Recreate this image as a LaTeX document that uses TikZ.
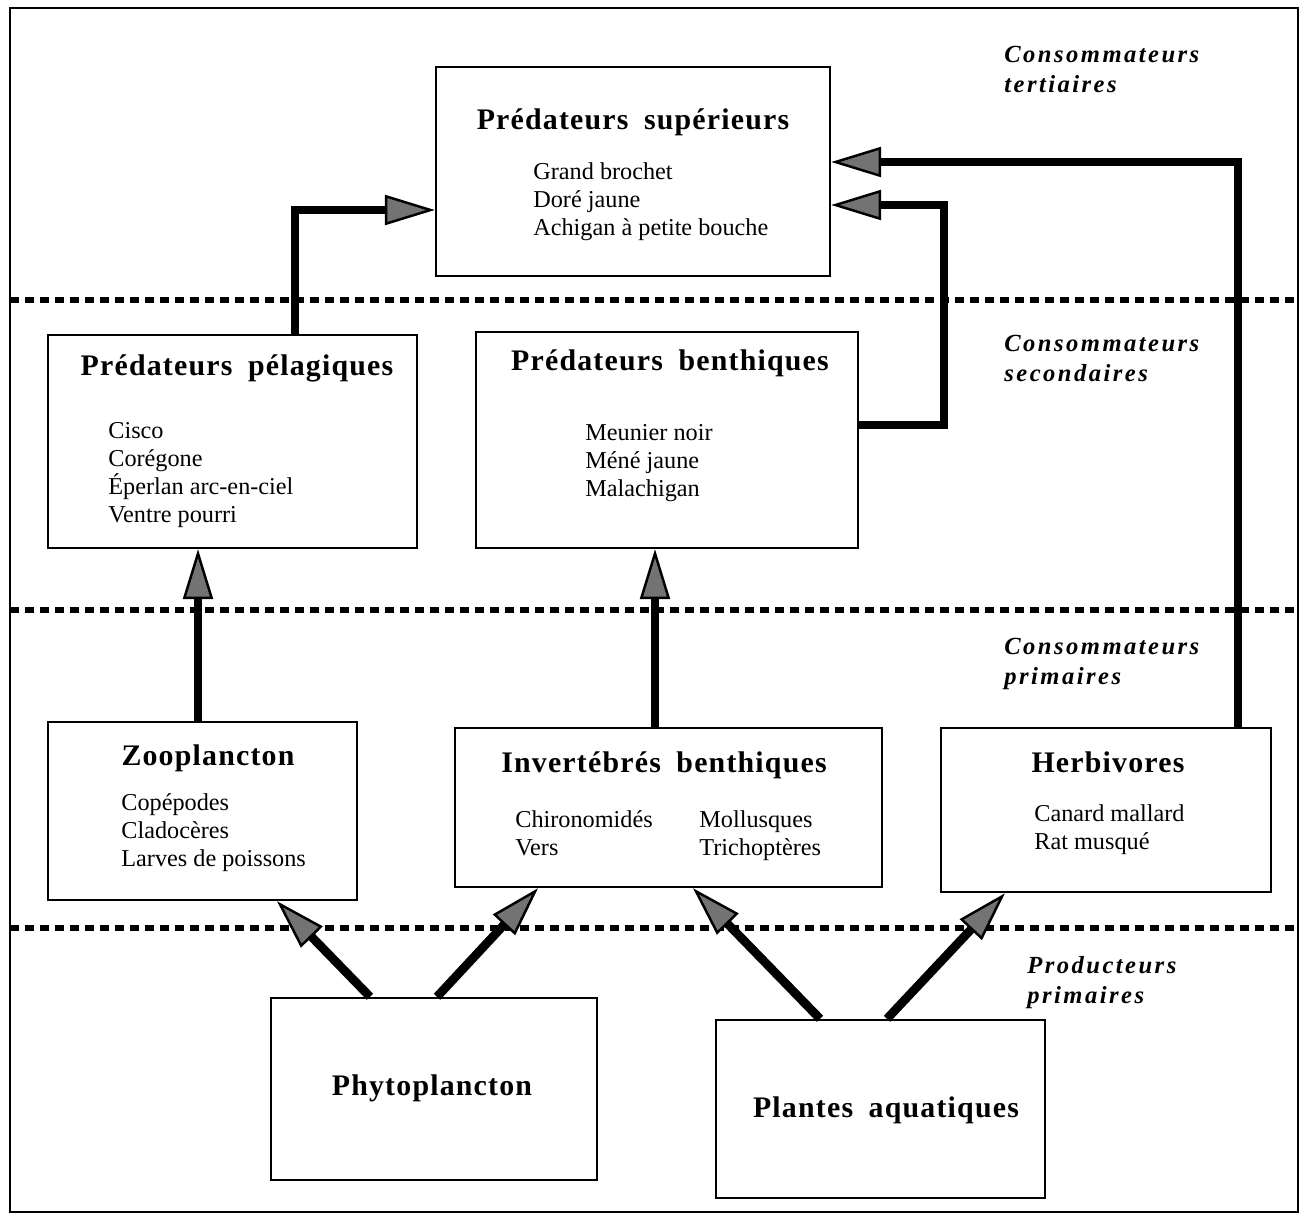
\documentclass[tikz,border=0pt]{standalone}
\usepackage{fontspec}
\setmainfont{Liberation Serif}
\newfontfamily\headfont[LetterSpace=4,WordSpace=1.8]{Liberation Serif}
\newfontfamily\levelfont[LetterSpace=10]{Liberation Serif}
\usetikzlibrary{arrows.meta, calc, positioning}

\tikzset{
    box/.style={draw, line width=1.4pt, inner sep=0pt},
    heading/.style={font=\headfont\fontsize{17}{20}\selectfont\bfseries, anchor=base, inner sep=0pt},
    items/.style={font=\fontsize{13.8}{15.9}\selectfont, align=left, anchor=north west, inner sep=0pt},
    level/.style={font=\levelfont\fontsize{14}{17}\selectfont\bfseries\itshape, align=left, anchor=north west, inner sep=0pt},
    flow/.style={line width=4.4pt, -{Triangle[length=1cm, width=0.6cm, fill=black!55, line width=1.4pt]}},
    trophic/.style={line width=0.11cm, dash pattern=on 0.18cm off 0.12cm}
}

\begin{document}
\begin{tikzpicture}[x=0.02cm, y=-0.02cm]

        \useasboundingbox (0,0) rectangle (1306,1218);
        \draw[line width=1.2pt] (10,8) rectangle (1298,1212);

        % Niveaux
        \draw[trophic] (10,300) -- (1298,300);
        \draw[trophic] (10,610) -- (1298,610);
        \draw[trophic] (10,928) -- (1298,928);

        \node[level] (tert) at (1004,46) {Consommateurs\\tertiaires};
        \node[level] (sec) at (1004,335) {Consommateurs\\secondaires};
        \node[level] (prim) at (1004,638) {Consommateurs\\primaires};
        \node[level] (prod) at (1027,956) {Producteurs\\primaires};

        % Consommateurs tertiaires
        \node[box, minimum width=7.88cm, minimum height=4.18cm] (sup) at (633,171.5) {};
        \node[heading] (supT) at (633,129) {Prédateurs supérieurs};
        \node[items] (supL) at (533,162) {Grand brochet\\Doré jaune\\Achigan à petite bouche};

        % Consommateurs secondaires
        \node[box, minimum width=7.38cm, minimum height=4.26cm] (pel) at (232.5,441.5) {};
        \node[heading] (pelT) at (237,375) {Prédateurs pélagiques};
        \node[items] (pelL) at (108,422) {Cisco\\Corégone\\Éperlan arc-en-ciel\\Ventre pourri};

        \node[box, minimum width=7.64cm, minimum height=4.32cm] (ben) at (667,440) {};
        \node[heading] (benT) at (670,370) {Prédateurs benthiques};
        \node[items] (benL) at (585,424) {Meunier noir\\Méné jaune\\Malachigan};

        % Consommateurs primaires
        \node[box, minimum width=6.18cm, minimum height=3.56cm] (zoo) at (202.5,811) {};
        \node[heading] (zooT) at (208,765) {Zooplancton};
        \node[items] (zooL) at (121,793) {Copépodes\\Cladocères\\Larves de poissons};

        \node[box, minimum width=8.54cm, minimum height=3.18cm] (inv) at (668.5,807.5) {};
        \node[heading] (invT) at (664,772) {Invertébrés benthiques};
        \node[items] (invL) at (515,810) {Chironomidés\\Vers};
        \node[items] (invR) at (699,810) {Mollusques\\Trichoptères};

        \node[box, minimum width=6.6cm, minimum height=3.28cm] (herb) at (1106,810) {};
        \node[heading] (herbT) at (1108,772) {Herbivores};
        \node[items] (herbL) at (1034,804) {Canard mallard\\Rat musqué};

        % Producteurs primaires
        \node[box, minimum width=6.52cm, minimum height=3.64cm] (phyto) at (434,1089) {};
        \node[heading] (phytoT) at (432,1095) {Phytoplancton};

        \node[box, minimum width=6.58cm, minimum height=3.56cm] (plant) at (880.5,1109) {};
        \node[heading] (plantT) at (886,1117) {Plantes aquatiques};

        % Flux
        \draw[flow] ($(pel.north)+(62.5,0)$) |- ($(sup.west)+(0,38.5)$);
        \draw[flow] ($(ben.east)+(0,-15)$) -- ++(85,0) |- ($(sup.east)+(0,33.5)$);
        \draw[flow] ($(herb.north)+(132,0)$) |- ($(sup.east)+(0,-9.5)$);

        \draw[flow] ($(zoo.north)+(-4.5,0)$) coordinate (zooUp) -- (zooUp |- pel.south);
        \draw[flow] ($(inv.north)+(-13.5,0)$) coordinate (invUp) -- (invUp |- ben.south);

        \draw[flow, line width=5pt] ($(phyto.north)+(-64,0)$) -- ($(zoo.south)+(74.5,0)$);
        \draw[flow, line width=5pt] ($(phyto.north)+(3,0)$) -- ($(inv.south)+(-130.5,0)$);
        \draw[flow, line width=5pt] ($(plant.north)+(-60.5,0)$) -- ($(inv.south)+(24.5,0)$);
        \draw[flow, line width=5pt] ($(plant.north)+(6.5,0)$) -- ($(herb.south)+(-101,0)$);

\end{tikzpicture}
\end{document}
